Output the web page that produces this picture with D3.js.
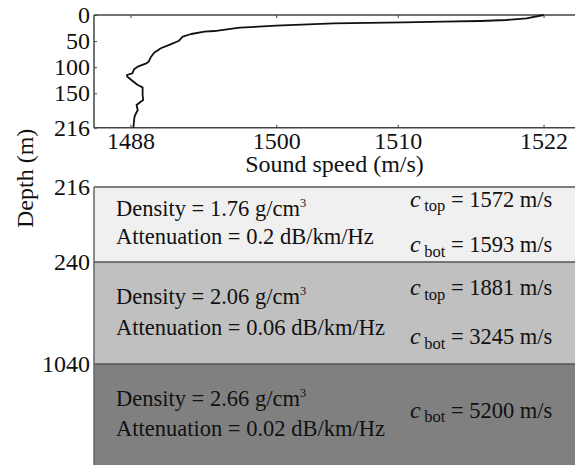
<!DOCTYPE html>
<html>
<head>
<meta charset="utf-8">
<script src="https://cdn.jsdelivr.net/npm/d3@7"></script>
<style>
  html, body { margin: 0; padding: 0; background: #fff; }
  svg { display: block; }
</style>
</head>
<body>
<svg id="chart" width="575" height="465"></svg>
<script>
// Water-column sound-speed profile (depth in m, speed in m/s)
const depth = [0, 6.3, 9.6, 11.5, 12.8, 14.0, 15.9, 20.5, 24.3, 30.7, 32.0, 36.4, 41.6, 49.3, 56.2,
  63.8, 72.3, 79.9, 89.5, 92.6, 99.1, 104.1, 111.7, 115.0, 118.3, 125.9, 134.2, 138.6, 153.3,
  162.9, 166.2, 172.5, 182.1, 193.6, 201.2, 214.1, 216];
const speed = [1522.0, 1520.6, 1518.95, 1516.8, 1513.7, 1510.5, 1504.7, 1500.0, 1497.0, 1494.9, 1494.1,
  1493.0, 1492.3, 1492.0, 1491.3, 1490.5, 1489.95, 1489.7, 1489.5, 1489.3, 1488.6, 1488.3, 1488.15,
  1487.7, 1487.75, 1488.15, 1488.6, 1489.0, 1489.0, 1489.05, 1488.85, 1488.5, 1488.6, 1488.35,
  1488.3, 1488.25, 1488.25];

const speedTicks = [1488, 1500, 1510, 1522];
const depthTicks = [0, 50, 100, 150, 216];

// Seabed layers
const layerTop = [216, 240, 1040];
const layerBottom = [240, 1040, 1840];
const layerDensity = ["1.76", "2.06", "2.66"];
const layerAttenuation = ["0.2", "0.06", "0.02"];
const layerCTop = [1572, 1881, null];
const layerCBot = [1593, 3245, 5200];
const layerFill = ["#f0f0f0", "#c0c0c0", "#808080"];

const svg = d3.select("#chart");
const W = 575;
const left = 94;
const serif = "'Liberation Serif', 'Times New Roman', serif";

// ---- Upper panel: sound speed profile ----
const x = d3.scaleLinear().domain([1485, 1525]).range([left, 580]);
const y = d3.scaleLinear().domain([0, 216]).range([15, 127.7]);

const frame = "#444";
const upper = svg.append("g");

// frame lines (top, left, bottom)
upper.append("line").attr("x1", left).attr("x2", W).attr("y1", y(0)).attr("y2", y(0))
  .attr("stroke", frame).attr("stroke-width", 1.5);
upper.append("line").attr("x1", left).attr("x2", W).attr("y1", y(216)).attr("y2", y(216))
  .attr("stroke", frame).attr("stroke-width", 1.5);
upper.append("line").attr("x1", left).attr("x2", left).attr("y1", y(0)).attr("y2", y(216))
  .attr("stroke", frame).attr("stroke-width", 1.5);

// bottom axis (ticks pointing inward)
const xAxis = d3.axisBottom(x).tickValues(speedTicks).tickSize(-3).tickPadding(4).tickFormat(d3.format("d"));
const gx = upper.append("g").attr("transform", `translate(0,${y(216)})`).call(xAxis);
gx.select(".domain").remove();
gx.selectAll(".tick line").attr("stroke", frame);
gx.selectAll(".tick text").attr("font-size", 24).attr("fill", "#111").attr("dy", "0.71em");

// top axis ticks
const xTop = d3.axisTop(x).tickValues(speedTicks).tickSize(-3).tickFormat("");
const gxt = upper.append("g").attr("transform", `translate(0,${y(0)})`).call(xTop);
gxt.select(".domain").remove();
gxt.selectAll(".tick line").attr("stroke", frame);

// left axis
const yAxis = d3.axisLeft(y).tickValues(depthTicks).tickSize(-3).tickPadding(4).tickFormat(d3.format("d"));
const gy = upper.append("g").attr("transform", `translate(${left},0)`).call(yAxis);
gy.select(".domain").remove();
gy.selectAll(".tick line").attr("stroke", frame);
gy.selectAll(".tick text").attr("font-size", 24).attr("fill", "#111");

// profile curve
const line = d3.line().x((d, i) => x(speed[i])).y((d, i) => y(depth[i]));
upper.append("path").datum(depth).attr("d", line)
  .attr("fill", "none").attr("stroke", "#111").attr("stroke-width", 1.8).attr("stroke-linejoin", "round");

upper.append("text").attr("x", (left + W) / 2).attr("y", 172).attr("text-anchor", "middle")
  .attr("font-size", 24).attr("fill", "#111").text("Sound speed (m/s)");

// ---- Lower panel: seabed layers ----
const yb = d3.scaleLinear().domain([216, 240, 1040, 1840]).range([187, 262, 364, 465]);
const layers = d3.range(layerTop.length);
const lower = svg.append("g");

lower.selectAll("rect.layer").data(layers).join("rect").attr("class", "layer")
  .attr("x", left).attr("width", W - left)
  .attr("y", i => yb(layerTop[i])).attr("height", i => yb(layerBottom[i]) - yb(layerTop[i]))
  .attr("fill", i => layerFill[i]);

lower.selectAll("line.bound").data(layerTop).join("line").attr("class", "bound")
  .attr("x1", left).attr("x2", W).attr("y1", d => yb(d)).attr("y2", d => yb(d))
  .attr("stroke", "#555").attr("stroke-width", 1.5);
lower.append("line").attr("x1", left).attr("x2", left).attr("y1", yb(216)).attr("y2", 465)
  .attr("stroke", "#666").attr("stroke-width", 1.5);

lower.selectAll("text.blabel").data(layerTop).join("text").attr("class", "blabel")
  .attr("x", 90).attr("y", d => yb(d)).attr("dy", "0.35em").attr("text-anchor", "end")
  .attr("font-size", 24).attr("fill", "#111").text(d => d);

const fs = 22.5;
layers.forEach(i => {
  const t = yb(layerTop[i]), b = yb(layerBottom[i]), mid = (t + b) / 2, h = b - t;
  const yDens = mid - 9;
  const dens = lower.append("text").attr("x", 116).attr("y", yDens).attr("font-size", fs).attr("fill", "#111");
  dens.append("tspan").text(`Density = ${layerDensity[i]} g/cm`);
  dens.append("tspan").attr("font-size", 12.5).attr("dy", -9).text("3");
  lower.append("text").attr("x", 116).attr("y", yDens + (h < 80 ? 28.5 : 30.5)).attr("font-size", fs).attr("fill", "#111")
    .text(`Attenuation = ${layerAttenuation[i]} dB/km/Hz`);

  const entries = [];
  if (layerCTop[i] != null) entries.push(["top", layerCTop[i]]);
  entries.push(["bot", layerCBot[i]]);
  const ys = entries.length === 2 ? [mid - 18, mid - 18 + (h < 80 ? 45.7 : 49)] : [mid + 3];
  entries.forEach(([sub, v], k) => {
    const tx = lower.append("text").attr("x", 410).attr("y", ys[k]).attr("font-size", fs).attr("fill", "#111");
    tx.append("tspan").attr("font-style", "italic").attr("font-size", 24).text("c");
    tx.append("tspan").attr("font-size", 16.5).attr("dy", 4.5).attr("dx", 3.5).text(sub);
    tx.append("tspan").attr("dy", -4.5).text(` = ${v} m/s`);
  });
});

// depth axis title
svg.append("text").attr("transform", "translate(33,228) rotate(-90)")
  .attr("font-size", 24).attr("fill", "#111").text("Depth (m)");

// serif face for every label
svg.selectAll("g").attr("font-family", null);
svg.selectAll("text").style("font-family", serif);
</script>
</body>
</html>
